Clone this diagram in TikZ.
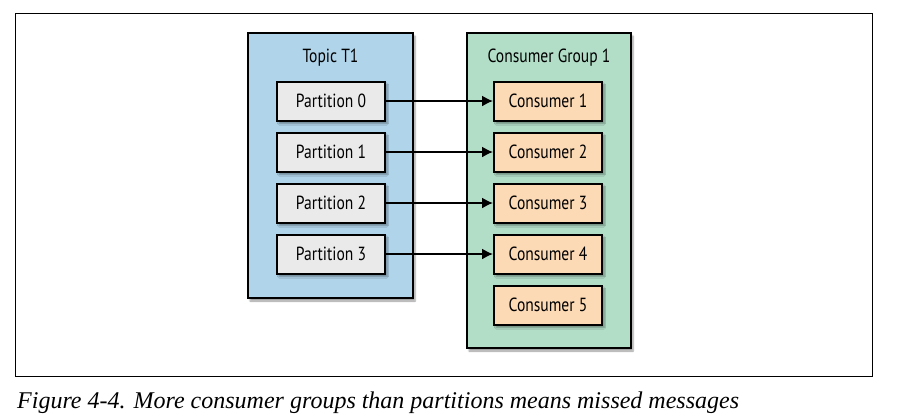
\documentclass[tikz,border=0pt]{standalone}
\usepackage{fontspec}
\newfontfamily\boxfont[FakeStretch=0.82]{PT Sans}
\newfontfamily\capfont{Liberation Serif}
\usetikzlibrary{arrows.meta,shadows.blur}

\definecolor{topicblue}{RGB}{176,212,234}
\definecolor{groupgreen}{RGB}{178,222,200}
\definecolor{partgrey}{RGB}{234,234,234}
\definecolor{consorange}{RGB}{252,218,182}

\begin{document}
\begin{tikzpicture}[x=1pt,y=-1pt]
        \tikzstyle{every node}=[font=\boxfont\fontsize{19}{22}\selectfont, inner sep=0pt]
        \tikzstyle{outer}=[draw, line width=2pt, blur shadow={shadow xshift=2pt, shadow yshift=-3pt, shadow blur steps=6}]
        \tikzstyle{inner}=[draw, line width=2pt, minimum width=108pt, minimum height=39pt, blur shadow={shadow xshift=2pt, shadow yshift=-3pt, shadow blur steps=6}]
        \tikzstyle{feed}=[line width=1.6pt, -{Latex[length=11pt,width=11pt]}]
        \useasboundingbox (0,0) rectangle (915,418);
        \draw[line width=1pt] (15,13) rectangle (872,376);
        \node[outer, fill=topicblue, minimum width=165pt, minimum height=265pt] (topic) at (330.5,165.5) {};
        \node[outer, fill=groupgreen, minimum width=164pt, minimum height=315pt] (group) at (549,190.5) {};
        \node (topiclbl) at (330.5,58) {Topic T1};
        \node (grouplbl) at (549,58) {Consumer Group 1};
        \foreach \i in {0,1,2,3} {
            \node[inner, fill=partgrey] (p\i) at (331,101+51*\i) {Partition \i};
        }
        \foreach \i in {1,...,5} {
            \node[inner, fill=consorange] (c\i) at (548,50+51*\i) {Consumer \i};
        }
        \foreach \i [evaluate=\i as \j using int(\i+1)] in {0,1,2,3} {
            \draw[feed] (p\i) -- (c\j);
        }
        \node[font=\capfont\itshape\fontsize{24}{27}\selectfont, anchor=base west] (caption) at (17,408) {Figure 4-4. More consumer groups than partitions means missed messages};
    \end{tikzpicture}
\end{document}
